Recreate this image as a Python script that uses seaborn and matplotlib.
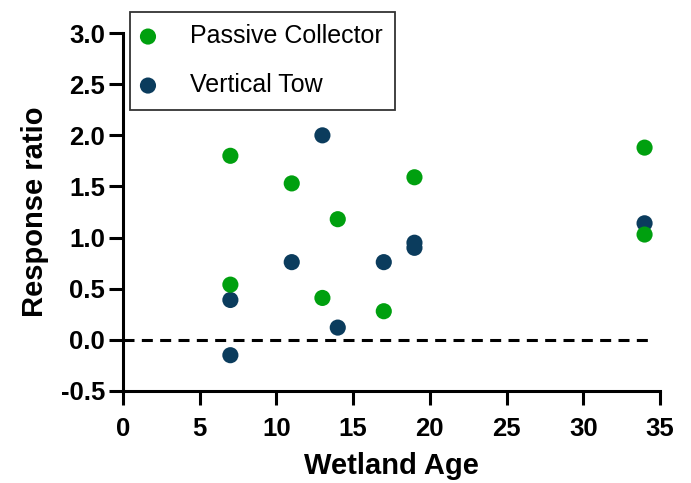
import pandas as pd
import seaborn as sns
import matplotlib.pyplot as plt

# values
passive_age = [7, 7, 11, 13, 14, 17, 19, 34, 34]
passive_ratio = [1.80, 0.54, 1.53, 0.41, 1.18, 0.28, 1.59, 1.88, 1.03]
tow_age = [7, 7, 11, 13, 14, 17, 19, 19, 34]
tow_ratio = [0.39, -0.15, 0.76, 2.00, 0.12, 0.76, 0.95, 0.90, 1.14]

df_passive = pd.DataFrame({"Age": passive_age, "Ratio": passive_ratio})
df_tow = pd.DataFrame({"Age": tow_age, "Ratio": tow_ratio})

sns.set_style(
    "ticks",
    {
        "text.color": "black",
        "axes.labelcolor": "black",
        "xtick.color": "black",
        "ytick.color": "black",
        "axes.edgecolor": "black",
    },
)
plt.rcParams["font.family"] = ["Liberation Sans", "DejaVu Sans"]

green = "#00A00F"
navy = "#0B3C5D"

fig = plt.figure(figsize=(6.91, 4.83), dpi=100)
ax = fig.add_axes([0.178, 0.1905, 0.777, 0.741])

ax.axhline(0, xmin=0, xmax=34.6 / 35, color="black", linestyle=(0, (3.6, 2.4)), linewidth=2.2, zorder=1)

# vertical tow first so the green points sit on top where they overlap
sns.scatterplot(data=df_tow, x="Age", y="Ratio", color=navy, s=135, edgecolor="none",
                label="Vertical Tow", zorder=3, clip_on=False, ax=ax)
sns.scatterplot(data=df_passive, x="Age", y="Ratio", color=green, s=135, edgecolor="none",
                label="Passive Collector", zorder=4, clip_on=False, ax=ax)

ax.set_xlim(0, 35)
ax.set_ylim(-0.5, 3.0)
ax.set_xticks(range(0, 36, 5))
ax.set_yticks([-0.5, 0.0, 0.5, 1.0, 1.5, 2.0, 2.5, 3.0])
ax.set_yticklabels(["-0.5", "0.0", "0.5", "1.0", "1.5", "2.0", "2.5", "3.0"])
for lab in ax.get_xticklabels() + ax.get_yticklabels():
    lab.set_fontweight("bold")
    lab.set_fontsize(18.5)
ax.tick_params(width=2.2, length=10, direction="out")
ax.tick_params(axis="x", pad=9)
ax.tick_params(axis="y", pad=3)
for side in ["left", "bottom"]:
    ax.spines[side].set_linewidth(2.2)
sns.despine(ax=ax)

ax.set_xlabel("Wetland Age", fontsize=21, fontweight="bold", labelpad=8)
ax.set_ylabel("Response ratio", fontsize=21, fontweight="bold", labelpad=8)

handles, labels = ax.get_legend_handles_labels()
leg = ax.legend(
    handles[::-1],
    labels[::-1],
    loc="upper left",
    bbox_to_anchor=(0.013, 1.06),
    frameon=True,
    fancybox=False,
    edgecolor="black",
    fontsize=18,
    markerscale=1.0,
    handlelength=0.44,
    handletextpad=1.46,
    labelspacing=1.0,
    borderpad=0.5,
    borderaxespad=0,
)
leg.get_frame().set_linewidth(1.3)

fig.savefig("out.png", dpi=100)
